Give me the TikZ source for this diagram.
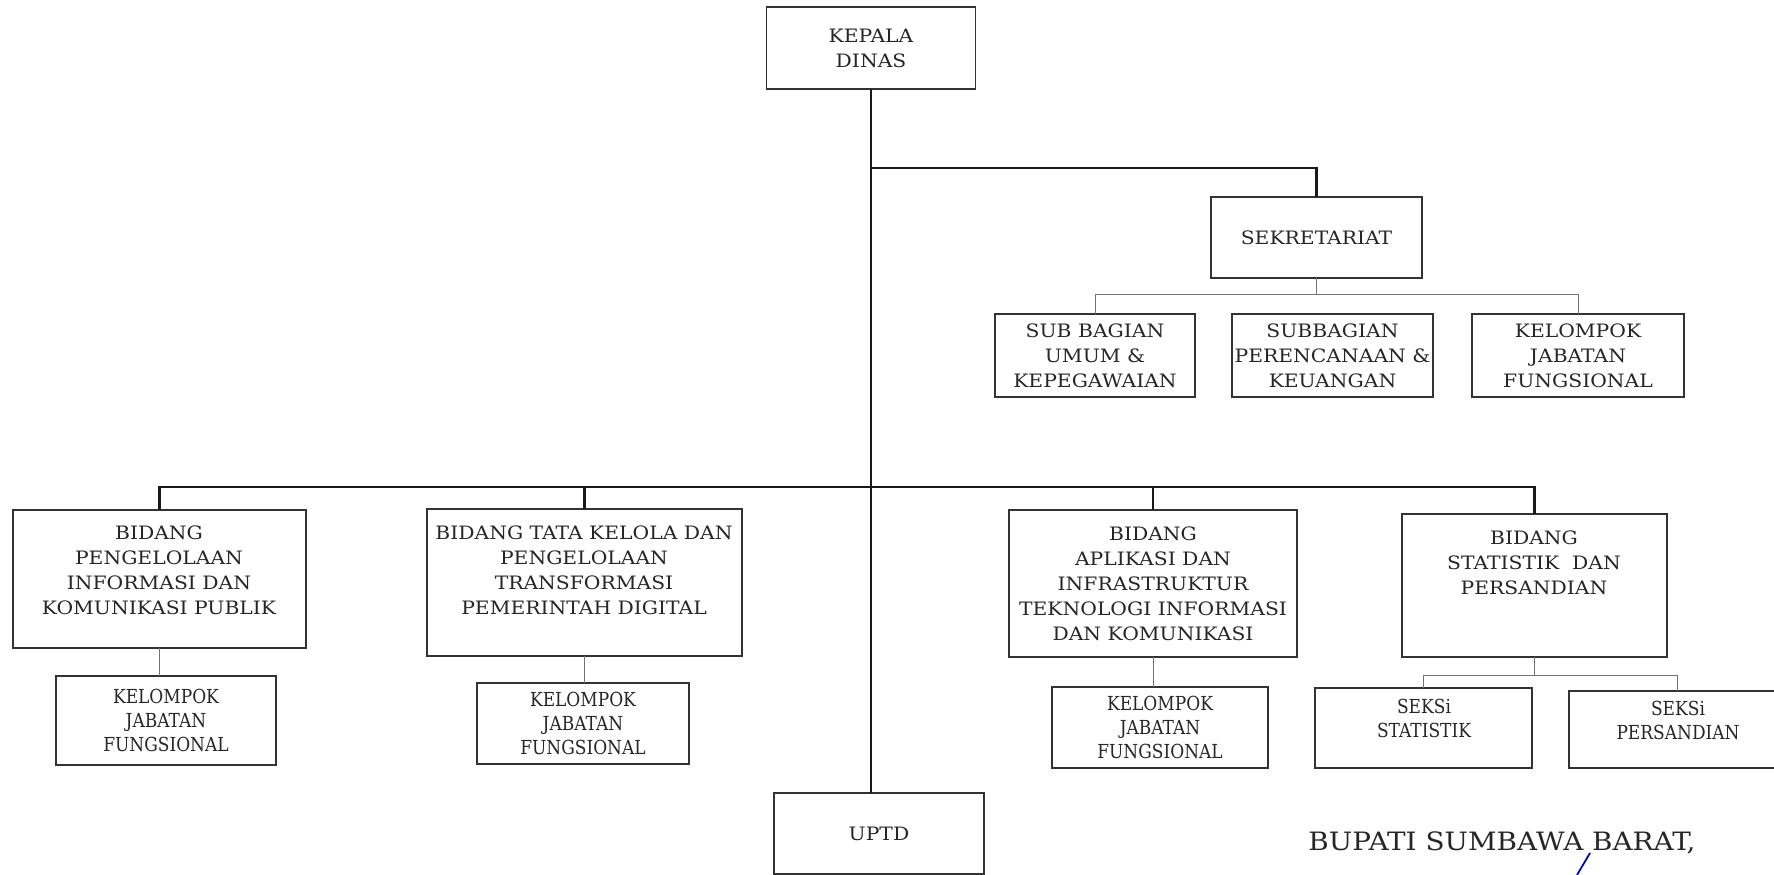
\documentclass[tikz,border=0pt]{standalone}
\usepackage{fontspec}
\setmainfont{DejaVu Serif}[FakeStretch=1.1]
\newfontfamily\condfont{DejaVu Serif}[FakeStretch=0.88]
\usepackage{tikz}
\usetikzlibrary{positioning}
\tikzset{block/.style = {draw=black!80, line width=1pt, rectangle, inner sep=0pt,
                  outer sep=0pt, align=center, text=black!85,
                  font=\fontsize{10.5}{14.2}\selectfont},
        kblock/.style = {block, font=\condfont\fontsize{11}{13.7}\selectfont},
        label/.style = {align=center, inner sep=0pt, text=black!85,
                  font=\fontsize{10.5}{14.2}\selectfont},
        klabel/.style = {label, font=\condfont\fontsize{11}{13.7}\selectfont},
        link/.style = {line width=1.3pt, black!90},
        sublink/.style = {line width=0.5pt, black!55}
    }

\begin{document}
\begin{tikzpicture}[x=0.02cm, y=-0.02cm]
          \useasboundingbox (0,0) rectangle (1774,875);
          \coordinate (lvl1) at (0,168);
          \coordinate (lvl2) at (0,487);
          \coordinate (sekbar) at (0,294);
          \coordinate (seksibar) at (0,675);

          % pimpinan dan sekretariat
          \node[block, minimum width=4.18cm, minimum height=1.64cm] (kepala) at (871,48) {KEPALA\\DINAS};
          \node[block, minimum width=4.22cm, minimum height=1.62cm] (sek) at (1316.5,237.5) {SEKRETARIAT};
          \node[block, minimum width=4.00cm, minimum height=1.66cm] (sbu) at (1095,355.5) {SUB BAGIAN\\UMUM \&\\KEPEGAWAIAN};
          \node[block, minimum width=4.02cm, minimum height=1.66cm] (spk) at (1332.5,355.5) {SUBBAGIAN\\PERENCANAAN \&\\KEUANGAN};
          \node[block, minimum width=4.24cm, minimum height=1.66cm] (skj) at (1578,355.5) {KELOMPOK\\JABATAN\\FUNGSIONAL};

          % bidang
          \node[block, minimum width=5.86cm, minimum height=2.76cm] (bpi) at (159.5,579) {};
          \node[label] (bpi-t) at (159,570) {BIDANG\\PENGELOLAAN\\INFORMASI DAN\\KOMUNIKASI PUBLIK};
          \node[block, minimum width=6.30cm, minimum height=2.94cm] (tkl) at (584.5,582.5) {};
          \node[label] (tkl-t) at (584,570) {BIDANG TATA KELOLA DAN\\PENGELOLAAN\\TRANSFORMASI\\PEMERINTAH DIGITAL};
          \node[block, minimum width=5.76cm, minimum height=2.94cm] (apl) at (1153,583.5) {BIDANG\\APLIKASI DAN\\INFRASTRUKTUR\\TEKNOLOGI INFORMASI\\DAN KOMUNIKASI};
          \node[block, minimum width=5.30cm, minimum height=2.86cm] (stat) at (1534.5,585.5) {};
          \node[label] (stat-t) at (1534,563) {BIDANG\\STATISTIK~ DAN\\PERSANDIAN};

          % kelompok dan seksi
          \node[kblock, minimum width=4.40cm, minimum height=1.78cm] (bpk) at (166,720.5) {KELOMPOK\\JABATAN\\FUNGSIONAL};
          \node[kblock, minimum width=4.24cm, minimum height=1.62cm] (tkk) at (583,723.5) {KELOMPOK\\JABATAN\\FUNGSIONAL};
          \node[kblock, minimum width=4.32cm, minimum height=1.62cm] (apk) at (1160,727.5) {KELOMPOK\\JABATAN\\FUNGSIONAL};
          \node[kblock, minimum width=4.34cm, minimum height=1.60cm] (sst) at (1423.5,728) {};
          \node[klabel] (sst-t) at (1424,718) {SEKSi\\STATISTIK};
          \node[kblock, minimum width=4.34cm, minimum height=1.54cm] (sps) at (1677.5,729.5) {};
          \node[klabel] (sps-t) at (1678,720) {SEKSi\\PERSANDIAN};
          \node[block, minimum width=4.20cm, minimum height=1.62cm] (uptd) at (879,833.5) {UPTD};

          % garis komando
          \draw[link] (kepala.south) -- (kepala.south |- uptd.north);
          \draw[link] (kepala.south |- lvl1) -| (sek.north);
          \draw[link] (bpi.north) |- (stat.north |- lvl2) -- (stat.north);
          \foreach \b in {tkl,apl}
            \draw[link] (\b.north) -- (\b.north |- lvl2);

          \draw[sublink] (sek.south) -- (sek.south |- sekbar);
          \draw[sublink] (sbu.north) |- (skj.north |- sekbar) -- (skj.north);
          \foreach \a/\b in {bpi/bpk, tkl/tkk, apl/apk}
            \draw[sublink] (\a.south) -- (\a.south |- \b.north);
          \draw[sublink] (stat.south) -- (stat.south |- seksibar);
          \draw[sublink] (sst.north) |- (sps.north |- seksibar) -- (sps.north);

          \node[text=black!85, font=\fontsize{14.4}{16}\selectfont] (bupati) at (1502,843) {BUPATI SUMBAWA BARAT,};
          \draw[blue!70!black, line width=1pt] (1590,853) -- (1577,875);
        \end{tikzpicture}
\end{document}
